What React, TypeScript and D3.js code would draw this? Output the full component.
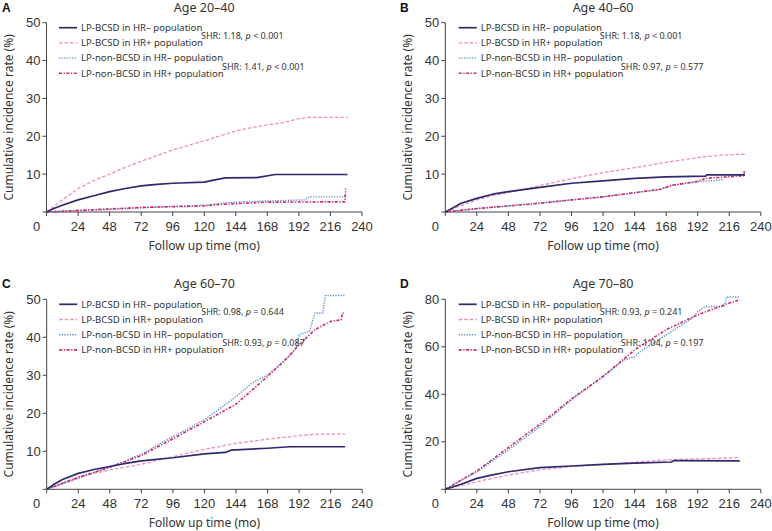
import React from "react";
import * as d3 from "d3";

type Pt = [number, number];

const xTicks = [0, 24, 48, 72, 96, 120, 144, 168, 192, 216, 240];
const yTicks50 = [10, 20, 30, 40, 50];
const yTicks80 = [20, 40, 60, 80];

const seriesNames = [
  "LP-BCSD in HR\u2013 population",
  "LP-BCSD in HR+ population",
  "LP-non-BCSD in HR\u2013 population",
  "LP-non-BCSD in HR+ population",
];

// Panel A: Age 20–40
const aBcsdNeg: Pt[] = [[0,0],[6,1.0],[12,1.8],[24,3.2],[36,4.3],[48,5.4],[60,6.2],[72,6.9],[84,7.3],[96,7.6],[120,7.9],[128,8.5],[136,9.0],[160,9.1],[174,9.9],[229,9.9]];
const aBcsdPos: Pt[] = [[0,0],[12,3.2],[24,6.2],[36,8.3],[48,10],[60,11.8],[72,13.4],[84,14.9],[96,16.4],[108,17.6],[120,18.8],[130,19.9],[144,21.4],[156,22.3],[168,23],[180,23.6],[192,24.7],[200,25],[229,25]];
const aNonNeg: Pt[] = [[0,0],[24,0.4],[48,0.7],[72,1.1],[96,1.5],[120,1.8],[136,2.4],[144,2.6],[168,2.9],[196,3.2],[200,4.0],[228,4.0]];
const aNonPos: Pt[] = [[0,0],[24,0.4],[48,0.8],[72,1.2],[96,1.4],[120,1.6],[132,2.0],[168,2.6],[227,2.7],[227.5,6.2]];

// Panel B: Age 40–60
const bBcsdNeg: Pt[] = [[0,0],[6,1.1],[12,2.3],[24,3.6],[36,4.7],[48,5.4],[72,6.5],[96,7.6],[120,8.2],[144,8.9],[168,9.3],[198,9.5],[199,9.8],[228,9.8]];
const bBcsdPos: Pt[] = [[0,0],[12,1.7],[24,3.2],[36,4.3],[48,5.1],[72,7],[96,8.8],[120,10.4],[144,11.7],[168,13.1],[192,14.4],[210,15],[228,15.3]];
const bNonNeg: Pt[] = [[0,0],[24,0.9],[48,1.6],[72,2.4],[96,3.2],[120,4],[144,5.1],[164,6],[172,7.1],[192,8],[212,8.5]];
const bNonPos: Pt[] = [[0,0],[24,0.9],[48,1.6],[72,2.3],[96,3.2],[120,4],[144,5.1],[164,6],[172,7],[192,8.1],[198,8.9],[216,9.3],[227,9.6],[227.5,10.8]];

// Panel C: Age 60–70
const cBcsdNeg: Pt[] = [[0,0],[6,1.4],[12,2.6],[24,4.2],[36,5.2],[48,6.0],[60,6.8],[72,7.5],[96,8.3],[120,9.3],[136,9.7],[140,10.3],[168,10.8],[185,11.2],[227,11.2]];
const cBcsdPos: Pt[] = [[0,0],[24,3.3],[48,5.1],[72,6.6],[96,8.6],[120,10.5],[144,12.1],[168,13.2],[192,14.1],[205,14.5],[227,14.5]];
const cNonNeg: Pt[] = [[0,0],[24,2.9],[48,6.0],[60,7.3],[64,8.2],[72,9.2],[84,11.6],[96,13.9],[108,16],[120,18.3],[132,21.3],[144,24.4],[156,27.9],[168,30.1],[180,33.7],[186,35.5],[190,37.5],[192,40.7],[200,41.6],[204,46.4],[210,46.4],[212,51],[227,51]];
const cNonPos: Pt[] = [[0,0],[24,3.1],[48,5.8],[72,8.9],[96,13.3],[120,17.8],[144,22.4],[168,29.7],[180,33.5],[192,38],[204,42],[216,44.2],[224,44.6],[225,46.4],[226,46.4]];

// Panel D: Age 70–80
const dBcsdNeg: Pt[] = [[0,0],[12,2.1],[24,4.6],[36,6.1],[48,7.4],[72,9.1],[96,9.8],[120,10.5],[144,11],[172,11.5],[174,12.1],[224,12.0]];
const dBcsdPos: Pt[] = [[0,0],[24,3.2],[48,6],[72,8.2],[96,9.6],[120,10.5],[144,11.4],[168,12.4],[192,12.8],[216,13.2],[224,13.5]];
const dNonNeg: Pt[] = [[0,0],[24,7.4],[48,16.6],[72,26.4],[96,37.7],[120,47.5],[136,54.5],[144,55.9],[150,58.7],[168,65],[180,69.3],[188,72],[192,74.9],[198,77],[212,77],[214,81],[224,81]];
const dNonPos: Pt[] = [[0,0],[24,7.7],[48,17.6],[72,27.4],[96,38.1],[120,47.5],[144,58.7],[168,67.2],[192,73.5],[216,78.4],[224,79.8]];

const colors = ["#2e2a6e", "#f08cc0", "#5b8fd0", "#d8246a"];
const dashes = ["", "3.5,2", "1.3,1.3", "3,1.6,1.2,1.6"];
const widths = [1.7, 1.3, 1.4, 1.6];

interface PanelCfg {
  letter: string;
  title: string;
  x0: number;
  y0: number;
  yTop: number;
  yMax: number;
  yTicks: number[];
  series: Pt[][];
  shr1: [string, string];
  shr2: [string, string];
}

const panels: PanelCfg[] = [
  { letter: "A", title: "Age 20\u201340", x0: 46.5, y0: 212, yTop: 22.7, yMax: 50, yTicks: yTicks50,
    series: [aBcsdNeg, aBcsdPos, aNonNeg, aNonPos], shr1: ["SHR: 1.18, ", " < 0.001"], shr2: ["SHR: 1.41, ", " < 0.001"] },
  { letter: "B", title: "Age 40\u201360", x0: 445.3, y0: 212, yTop: 22.7, yMax: 50, yTicks: yTicks50,
    series: [bBcsdNeg, bBcsdPos, bNonNeg, bNonPos], shr1: ["SHR: 1.18, ", " < 0.001"], shr2: ["SHR: 0.97, ", " = 0.577"] },
  { letter: "C", title: "Age 60\u201370", x0: 46.7, y0: 489.3, yTop: 299.3, yMax: 50, yTicks: yTicks50,
    series: [cBcsdNeg, cBcsdPos, cNonNeg, cNonPos], shr1: ["SHR: 0.98, ", " = 0.644"], shr2: ["SHR: 0.93, ", " = 0.087"] },
  { letter: "D", title: "Age 70\u201380", x0: 445.3, y0: 489.3, yTop: 299.3, yMax: 80, yTicks: yTicks80,
    series: [dBcsdNeg, dBcsdPos, dNonNeg, dNonPos], shr1: ["SHR: 0.93, ", " = 0.241"], shr2: ["SHR: 1.04, ", " = 0.197"] },
];

const PLOT_W = 315.5;
const axisColor = "#444";
const textColor = "#333";
const uiFont = "'Noto Sans', 'Open Sans', sans-serif";
const tickFont = "'Liberation Sans', Arial, sans-serif";

function Panel({ cfg }: { cfg: PanelCfg }) {
  const x = d3.scaleLinear().domain([0, 240]).range([cfg.x0, cfg.x0 + PLOT_W]);
  const y = d3.scaleLinear().domain([0, cfg.yMax]).range([cfg.y0, cfg.yTop]);
  const line = d3.line<Pt>().x((d) => x(d[0])).y((d) => y(d[1])).curve(d3.curveLinear);
  const cx = cfg.x0 + PLOT_W / 2;
  const left = cfg.letter === "A" || cfg.letter === "C";
  const legX = left ? cfg.x0 + 12.5 : cfg.x0 + 13.4;
  const legY0 = cfg.yTop + 5;
  const shrX1 = cfg.x0 + 154.5;
  const shrX2 = cfg.x0 + 175.5;
  const order = [1, 2, 3, 0];
  return (
    <g>
      <text x={left ? 2 : 400} y={cfg.yTop - 11} fontFamily={tickFont}
        fontWeight="bold" fontSize={12} fill="#111">{cfg.letter}</text>
      <text x={cx} y={cfg.yTop - 11} textAnchor="middle" fontFamily={uiFont} fontSize={12.5} fill={textColor}>{cfg.title}</text>
      <line x1={cfg.x0} x2={cfg.x0} y1={cfg.y0} y2={y(cfg.yMax)} stroke={axisColor} strokeWidth={1} />
      {[0, ...cfg.yTicks].map((t) => (
        <g key={"y" + t}>
          <line x1={cfg.x0 - 4} x2={cfg.x0} y1={y(t)} y2={y(t)} stroke={axisColor} strokeWidth={1} />
          {t !== 0 && (
            <text x={cfg.x0 - 6} y={y(t)} dy="0.35em" textAnchor="end" fontFamily={tickFont} fontSize={13} fill={textColor}>{t}</text>
          )}
        </g>
      ))}
      <line x1={cfg.x0} x2={x(240)} y1={cfg.y0} y2={cfg.y0} stroke={axisColor} strokeWidth={1} />
      {xTicks.map((t) => (
        <g key={"x" + t}>
          <line x1={x(t)} x2={x(t)} y1={cfg.y0} y2={cfg.y0 + 4} stroke={axisColor} strokeWidth={1} />
          <text x={t === 0 ? x(t) - 10 : x(t)} y={cfg.y0 + 19} textAnchor="middle" fontFamily={tickFont} fontSize={13} fill={textColor}>{t}</text>
        </g>
      ))}
      <text x={cx} y={cfg.y0 + 37.5} textAnchor="middle" fontFamily={uiFont} fontSize={12} fill={textColor}>Follow up time (mo)</text>
      <text transform={`translate(${cfg.x0 - 37.5},${(cfg.y0 + cfg.yTop) / 2}) rotate(-90)`} textAnchor="middle" dy="0.35em"
        fontFamily={uiFont} fontSize={12} fill={textColor}>Cumulative incidence rate (%)</text>
      {order.map((i) => (
        <path key={"s" + i} d={line(cfg.series[i]) || ""} fill="none" stroke={colors[i]} strokeWidth={widths[i]}
          strokeDasharray={dashes[i] || undefined} strokeLinejoin="round" />
      ))}
      {seriesNames.map((n, i) => {
        const ly = legY0 + i * 15.2;
        return (
          <g key={"l" + i}>
            <line x1={legX} x2={legX + 18} y1={ly} y2={ly} stroke={colors[i]} strokeWidth={widths[i]} strokeDasharray={dashes[i] || undefined} />
            <text x={legX + 22} y={ly} dy="0.35em" fontFamily={uiFont} fontSize={9.6} fill={textColor}>{n}</text>
          </g>
        );
      })}
      <text x={shrX1} y={legY0 + 8} dy="0.35em" fontFamily={uiFont} fontSize={9} fill={textColor}>
        {cfg.shr1[0]}<tspan fontStyle="italic">p</tspan>{cfg.shr1[1]}
      </text>
      <text x={shrX2} y={legY0 + 39} dy="0.35em" fontFamily={uiFont} fontSize={9} fill={textColor}>
        {cfg.shr2[0]}<tspan fontStyle="italic">p</tspan>{cfg.shr2[1]}
      </text>
    </g>
  );
}

export default function App() {
  return (
    <svg width={772} height={531} viewBox="0 0 772 531"
      style={{ position: "absolute", left: 0, top: 0, display: "block", background: "#fff" }}>
      <rect x={0} y={0} width={772} height={531} fill="#fff" />
      {panels.map((p) => (
        <Panel key={p.letter} cfg={p} />
      ))}
    </svg>
  );
}
